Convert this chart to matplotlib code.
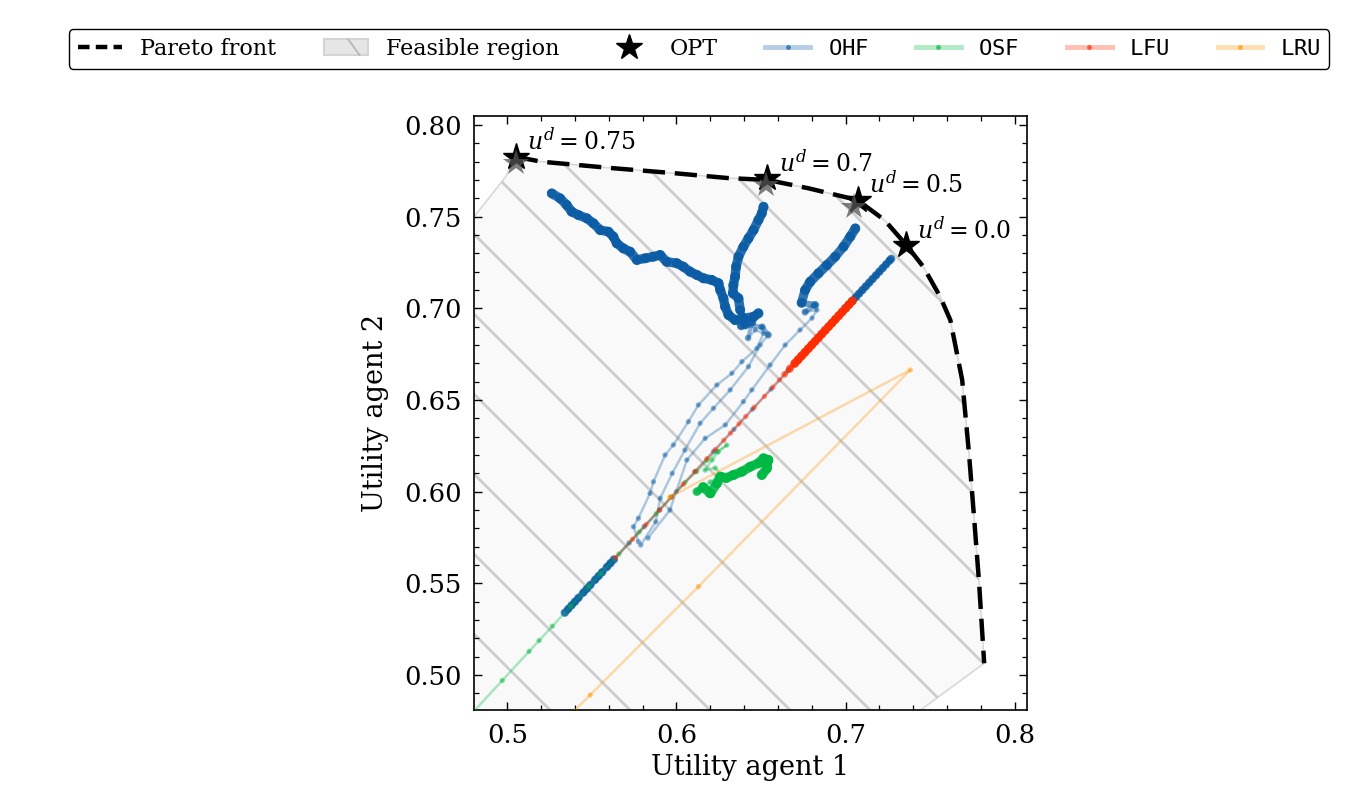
import numpy as np
import matplotlib
matplotlib.use("Agg")
import matplotlib.pyplot as plt
from matplotlib.collections import LineCollection
from matplotlib.colors import to_rgba
from matplotlib.legend_handler import HandlerBase
from matplotlib.lines import Line2D
from matplotlib.patches import Polygon, Rectangle, Patch
from matplotlib.ticker import MultipleLocator

plt.rcParams["font.family"] = "serif"
plt.rcParams["font.serif"] = ["DejaVu Serif"]
plt.rcParams["mathtext.fontset"] = "dejavuserif"

BLUE, GREEN, ORANGE, RED = "#0C5DA5", "#00B945", "#FF9500", "#FF2C00"

# Pareto front (utility agent 1, utility agent 2)
pareto_u1 = [0.505, 0.520, 0.563, 0.599, 0.630, 0.654, 0.678, 0.707, 0.723,
             0.736, 0.746, 0.756, 0.762, 0.769, 0.773, 0.776, 0.779, 0.782]
pareto_u2 = [0.7827, 0.780, 0.7764, 0.7737, 0.7711, 0.7700, 0.7655, 0.7591, 0.7482,
             0.7345, 0.7227, 0.7063, 0.6936, 0.6609, 0.6211, 0.5863, 0.5502, 0.5064]

# rest of the feasible region outline (below / left of the front)
region_u1 = [0.684, 0.44, 0.44, 0.4991]
region_u2 = [0.44, 0.44, 0.7032, 0.7718]

# optimal points for each u^d
opt_labels = ["0.75", "0.7", "0.5", "0.0"]
opt_u1 = [0.505, 0.6538, 0.7071, 0.7356]
opt_u2 = [0.7827, 0.7709, 0.7591, 0.7345]
shadow_u1 = [0.505, 0.6529, 0.7051]
shadow_u2 = [0.7793, 0.7673, 0.7554]

# OHF runs
ohf_a = [(0.5775, 0.5727), (0.5746, 0.5809), (0.5775, 0.5855), (0.5844, 0.5991), (0.5864, 0.6054),
         (0.5933, 0.6200), (0.5982, 0.6255), (0.6071, 0.6382), (0.6130, 0.6473), (0.6239, 0.6582),
         (0.6328, 0.6646), (0.6387, 0.6709), (0.6476, 0.6782), (0.6515, 0.6864), (0.6466, 0.6882),
         (0.6424, 0.6838), (0.6447, 0.6925), (0.6383, 0.6904), (0.6485, 0.6973), (0.6456, 0.6954),
         (0.6396, 0.6946), (0.6347, 0.6936), (0.6308, 0.6964), (0.6288, 0.7009), (0.6278, 0.7055),
         (0.6259, 0.7100), (0.6249, 0.7137), (0.6209, 0.7155), (0.6160, 0.7164), (0.6121, 0.7182),
         (0.6081, 0.7200), (0.6041, 0.7227), (0.6002, 0.7246), (0.5943, 0.7254), (0.5904, 0.7291),
         (0.5864, 0.7282), (0.5815, 0.7273), (0.5766, 0.7264), (0.5726, 0.7309), (0.5686, 0.7327),
         (0.5647, 0.7355), (0.5627, 0.7391), (0.5598, 0.7418), (0.5549, 0.7427), (0.5509, 0.7464),
         (0.5470, 0.7491), (0.5420, 0.7509), (0.5381, 0.7527), (0.5351, 0.7564), (0.5312, 0.7600),
         (0.5263, 0.7627)]
ohf_b = [(0.5789, 0.5709), (0.5878, 0.5836), (0.5904, 0.5964), (0.5975, 0.6100), (0.6050, 0.6227),
         (0.6140, 0.6373), (0.6219, 0.6455), (0.6318, 0.6555), (0.6426, 0.6682), (0.6495, 0.6800),
         (0.6543, 0.6855), (0.6507, 0.6898), (0.6407, 0.6909), (0.6377, 0.6991), (0.6367, 0.7055),
         (0.6334, 0.7082), (0.6337, 0.7127), (0.6347, 0.7173), (0.6353, 0.7227), (0.6367, 0.7282),
         (0.6396, 0.7336), (0.6426, 0.7382), (0.6456, 0.7427), (0.6485, 0.7482), (0.6505, 0.7518),
         (0.6515, 0.7554)]
ohf_c = [(0.5832, 0.5747), (0.5962, 0.5900), (0.6062, 0.6173), (0.6170, 0.6291), (0.6289, 0.6364),
         (0.6396, 0.6491), (0.6446, 0.6555), (0.6554, 0.6691), (0.6643, 0.6800), (0.6731, 0.6882),
         (0.6802, 0.6947), (0.6831, 0.6991), (0.6761, 0.6980), (0.6820, 0.7018), (0.6740, 0.7030),
         (0.6761, 0.7100), (0.6791, 0.7145), (0.6840, 0.7191), (0.6890, 0.7236), (0.6939, 0.7282),
         (0.6988, 0.7336), (0.7028, 0.7391), (0.7058, 0.7436)]
# symmetric run, u1 == u2
ohf_diag = [0.534, 0.536, 0.538, 0.540, 0.542, 0.545, 0.547, 0.549, 0.552, 0.554, 0.556, 0.559,
            0.561, 0.563, 0.572, 0.581, 0.590, 0.600, 0.611, 0.622, 0.634, 0.645, 0.656, 0.666,
            0.676, 0.686, 0.694, 0.700, 0.702, 0.704, 0.706, 0.708, 0.710, 0.712, 0.714, 0.716,
            0.718, 0.720, 0.722, 0.724, 0.726, 0.727]

osf = [(0.472, 0.472), (0.497, 0.497), (0.5129, 0.5129), (0.5188, 0.5188), (0.5266, 0.5266),
       (0.5375, 0.5375), (0.5483, 0.5483), (0.5553, 0.5553), (0.566, 0.566), (0.578, 0.578),
       (0.588, 0.588), (0.597, 0.597), (0.605, 0.605), (0.612, 0.611), (0.618, 0.617),
       (0.624, 0.622), (0.6298, 0.6254), (0.6247, 0.6216), (0.6211, 0.6173), (0.6170, 0.6118),
       (0.6229, 0.6129), (0.6271, 0.6091), (0.6200, 0.6053), (0.6141, 0.6009), (0.6121, 0.6000),
       (0.6158, 0.6025), (0.6200, 0.5991), (0.6239, 0.6045), (0.6259, 0.6082), (0.6295, 0.6075),
       (0.6337, 0.6091), (0.6387, 0.6109), (0.6436, 0.6136), (0.6485, 0.6155), (0.6515, 0.6182),
       (0.6544, 0.6173), (0.6536, 0.6145), (0.6535, 0.6127), (0.6505, 0.6091)]

# symmetric run, u1 == u2
lfu_diag = [0.564, 0.574, 0.582, 0.590, 0.597, 0.604, 0.611, 0.618, 0.623, 0.628, 0.632, 0.637,
            0.641, 0.646, 0.652, 0.657, 0.661, 0.664, 0.667, 0.670, 0.672, 0.674, 0.676, 0.678,
            0.680, 0.682, 0.684, 0.686, 0.688, 0.690, 0.692, 0.694, 0.696, 0.698, 0.700, 0.702,
            0.704]

lru = [(0.485, 0.430), (0.549, 0.4891), (0.613, 0.5482), (0.7383, 0.6664), (0.596, 0.597)]


class HatchedBox(HandlerBase):
    def create_artists(self, legend, orig_handle, xdescent, ydescent,
                       width, height, fontsize, trans):
        x0, y0 = -xdescent, -ydescent
        box = Rectangle((x0, y0), width, height, facecolor="#e6e6e6",
                        edgecolor="#d4d4d4", lw=1.5, transform=trans)
        stroke = Line2D([x0 + 0.55 * width, x0 + 0.8 * width], [y0 + height, y0],
                        color="#b4b4b4", lw=1.2, transform=trans)
        return [box, stroke]


def draw_run(ax, u1, u2, color, z, settle=0, heavy=1.0):
    # iterations pile up once a run converges, so crowded steps read as a heavy stroke
    pts = np.column_stack([u1, u2])
    step = np.hypot(*np.diff(pts, axis=0).T)
    w = np.clip((0.013 - step) / 0.006, 0, 1)
    w *= np.clip((np.arange(1, len(pts)) - settle + 3) / 3, 0, 1)
    w *= heavy
    segs = np.stack([pts[:-1], pts[1:]], axis=1)
    lc = LineCollection(segs, linewidths=1.8 + 5.0 * w,
                        colors=[to_rgba(color, 0.32 + 0.55 * v) for v in w],
                        capstyle="round", zorder=z)
    ax.add_collection(lc)
    wp = np.maximum(np.r_[w[:1], w], np.r_[w, w[-1:]])
    ax.scatter(u1, u2, s=15 + 36 * wp, color=color, alpha=0.45 + 0.4 * wp, lw=0, zorder=z)


def main():
    fig = plt.figure(figsize=(13.47, 7.85), dpi=100)
    ax = fig.add_axes([0.3519, 0.0955, 0.4105, 0.7567])
    ax.set_xlim(0.4803, 0.8073)
    ax.set_ylim(0.4809, 0.8049)

    verts = np.column_stack([pareto_u1 + region_u1, pareto_u2 + region_u2])
    region = Polygon(verts, closed=True, facecolor="#f9f9f9", edgecolor="#d9d9d9",
                     lw=1.2, zorder=1)
    ax.add_patch(region)

    # sparse 45 degree hatching inside the feasible region
    w_px = 0.4105 * 1347
    h_px = 0.7567 * 785
    for c in np.arange(156 - 80 * 10, 156 + 80 * 20, 80):
        hl, = ax.plot([(c + 2 * h_px) / w_px, (c - 3 * h_px) / w_px], [-2, 3],
                      transform=ax.transAxes, color="#bdbdbd", lw=2, alpha=0.7, zorder=1.2)
        hl.set_clip_path(region)

    ax.plot(pareto_u1, pareto_u2, color="k", lw=3.2, dashes=(5, 2.2), zorder=6)

    for run, settle in ((ohf_a, 18), (ohf_b, 13), (ohf_c, 15)):
        u1, u2 = zip(*run)
        draw_run(ax, u1, u2, BLUE, 3, settle=settle)
    draw_run(ax, ohf_diag, ohf_diag, BLUE, 3, heavy=0.6)
    u1, u2 = zip(*osf)
    draw_run(ax, u1, u2, GREEN, 4, settle=26)
    draw_run(ax, lfu_diag, lfu_diag, RED, 4, settle=20, heavy=0.75)
    u1, u2 = zip(*lru)
    draw_run(ax, u1, u2, ORANGE, 4, heavy=0.0)

    ax.plot(opt_u1, opt_u2, ls="none", marker="*", color="k", ms=20, zorder=7)
    ax.plot(shadow_u1, shadow_u2, ls="none", marker="*", color="#555555", alpha=0.75,
            ms=20, mew=0, zorder=8)
    for lab, x, y in zip(opt_labels, opt_u1, opt_u2):
        ax.annotate(rf"$u^d = {lab}$", (x, y), xytext=(8, 5), textcoords="offset points",
                    fontsize=17, ha="left", va="baseline", zorder=9)

    ax.xaxis.set_major_locator(MultipleLocator(0.1))
    ax.xaxis.set_minor_locator(MultipleLocator(0.02))
    ax.yaxis.set_major_locator(MultipleLocator(0.05))
    ax.yaxis.set_minor_locator(MultipleLocator(0.01))
    ax.tick_params(which="both", direction="in", top=True, right=True, labelsize=18.5, pad=9)
    ax.tick_params(which="major", length=6, width=1)
    ax.tick_params(which="minor", length=3.5, width=0.9)
    for sp in ax.spines.values():
        sp.set_linewidth(1.2)
    ax.set_xlabel("Utility agent 1", fontsize=19.5, labelpad=5)
    ax.set_ylabel("Utility agent 2", fontsize=19.5, labelpad=11)

    feasible = Patch()
    handles = [
        Line2D([], [], color="k", lw=3.2, dashes=(2.6, 1.4)),
        feasible,
        Line2D([], [], ls="none", marker="*", color="k", ms=19),
    ]
    for c in (BLUE, GREEN, RED, ORANGE):
        handles.append(Line2D([], [], color=to_rgba(c, 0.3), lw=3.5, marker="o", ms=3.5,
                              mfc=to_rgba(c, 0.7), mec="none"))
    labels = ["Pareto front", "Feasible region", "OPT",
              r"$\mathtt{OHF}$", r"$\mathtt{OSF}$", r"$\mathtt{LFU}$", r"$\mathtt{LRU}$"]
    leg = fig.legend(handles, labels, loc="center", bbox_to_anchor=(0.519, 0.9376), ncol=7,
                     fontsize=16, frameon=True, fancybox=True, framealpha=1, edgecolor="k",
                     handlelength=2.0, columnspacing=2.15, handletextpad=0.8, borderpad=0.4,
                     handler_map={feasible: HatchedBox()})
    leg.get_frame().set_linewidth(1.0)

    fig.savefig("out.png", dpi=100)


if __name__ == "__main__":
    main()
